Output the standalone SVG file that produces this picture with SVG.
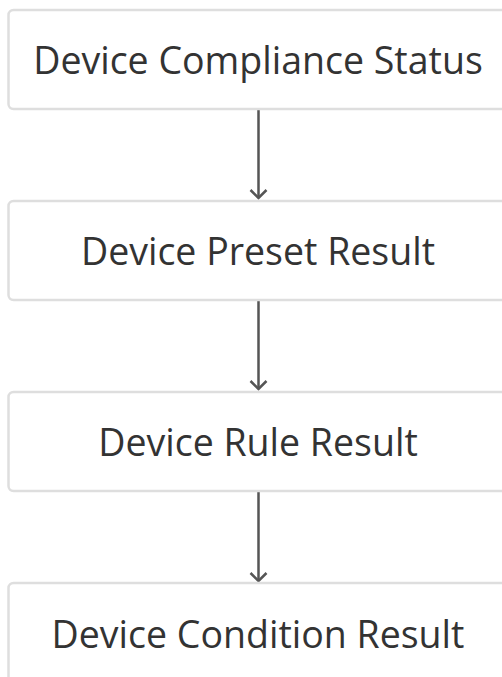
<svg xmlns="http://www.w3.org/2000/svg" width="502" height="677" viewBox="0 0 502 677">
<style>
.box{fill:#fff;stroke:#dedede;stroke-width:2.5}
.lbl{font-family:"Open Sans","Noto Sans",sans-serif;font-size:37.5px;fill:#333;text-anchor:middle}
.edge{stroke:#555;stroke-width:2.5;fill:none}
</style>
<defs>
<marker id="ah" markerWidth="20" markerHeight="20" refX="10" refY="10" orient="auto" markerUnits="userSpaceOnUse">
<path d="M2,2 L10,10 L2,18" fill="none" stroke="#555" stroke-width="2.5"/>
</marker>
</defs>
<rect width="502" height="677" fill="#fff"/>
<g id="connectors">
<line class="edge" x1="258.5" y1="110" x2="258.5" y2="198" marker-end="url(#ah)"/>
<line class="edge" x1="258.5" y1="301" x2="258.5" y2="389" marker-end="url(#ah)"/>
<line class="edge" x1="258.5" y1="492" x2="258.5" y2="581" marker-end="url(#ah)"/>
</g>
<g id="n1"><rect class="box" x="8.5" y="10" width="520" height="99" rx="5"/><text class="lbl" x="258" y="74">Device Compliance Status</text></g>
<g id="n2"><rect class="box" x="8.5" y="201" width="520" height="99" rx="5"/><text class="lbl" x="258" y="265">Device Preset Result</text></g>
<g id="n3"><rect class="box" x="8.5" y="392" width="520" height="99" rx="5"/><text class="lbl" x="258" y="456">Device Rule Result</text></g>
<g id="n4"><rect class="box" x="8.5" y="583" width="520" height="120" rx="5"/><text class="lbl" x="258" y="648">Device Condition Result</text></g>
</svg>
